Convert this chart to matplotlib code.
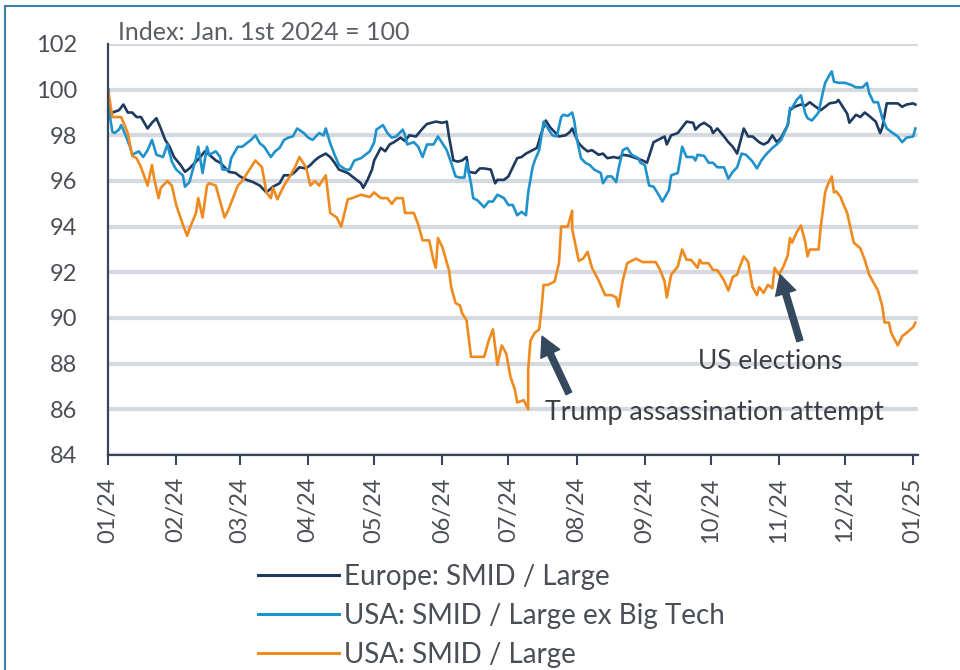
import matplotlib
matplotlib.use("Agg")
import matplotlib.pyplot as plt
import matplotlib.dates as mdates
import pandas as pd

# 数据：交易日偏移(自 2024-01-01 起的天数) 与指数值 (2024-01-01 = 100)
eu_days = [0, 1, 2, 5, 7, 9, 11, 13, 15, 18, 20, 22, 24, 26, 28, 30, 33, 35, 37, 40,
           42, 44, 46, 49, 51, 53, 55, 58, 60, 63, 66, 69, 72, 75, 76, 78, 80, 83, 85, 87,
           90, 92, 94, 96, 99, 101, 103, 105, 109, 111, 115, 116, 118, 120, 121, 124, 126, 128, 130, 133,
           135, 137, 140, 143, 145, 149, 152, 154, 155, 157, 159, 161, 163, 164, 167, 169, 171, 174, 176, 177,
           180, 182, 184, 186, 188, 190, 193, 195, 197, 199, 201, 203, 205, 208, 210, 211, 214, 216, 218, 220,
           223, 225, 227, 230, 232, 234, 237, 240, 243, 245, 248, 250, 253, 254, 256, 259, 261, 263, 266, 267,
           269, 271, 274, 275, 277, 280, 282, 284, 286, 289, 291, 293, 296, 298, 300, 302, 304, 306, 309, 310,
           312, 315, 317, 319, 321, 324, 326, 328, 331, 332, 334, 336, 337, 340, 342, 344, 346, 349, 351, 352,
           354, 356, 359, 361, 363, 366, 367]
eu_vals = [100.0, 98.8, 99.0, 99.1, 99.35, 99.0, 99.0, 98.8, 98.8, 98.3, 98.55, 98.75, 98.3, 97.8, 97.5, 97.05, 96.7, 96.4, 96.55, 96.85,
           97.05, 97.3, 97.15, 96.9, 96.8, 96.6, 96.4, 96.35, 96.2, 96.05, 95.95, 95.8, 95.5, 95.75, 95.8, 95.9, 96.25, 96.25, 96.4, 96.6,
           96.55, 96.7, 96.9, 97.05, 97.2, 97.05, 96.8, 96.5, 96.35, 96.2, 95.9, 95.7, 96.05, 96.5, 96.9, 97.45, 97.3, 97.6, 97.7, 97.9,
           97.75, 98.0, 97.95, 98.3, 98.5, 98.6, 98.55, 98.6, 97.95, 96.9, 96.85, 96.9, 97.05, 96.4, 96.35, 96.55, 96.55, 96.5, 95.9, 96.05,
           96.05, 96.2, 96.6, 97.0, 97.05, 97.2, 97.35, 97.45, 98.1, 98.65, 98.35, 98.15, 97.95, 98.0, 98.15, 98.3, 97.65, 97.45, 97.3, 97.35,
           97.15, 97.2, 97.0, 97.05, 97.0, 97.15, 97.1, 97.0, 96.9, 96.8, 97.7, 97.8, 97.95, 97.6, 98.0, 98.1, 98.35, 98.6, 98.55, 98.25,
           98.45, 98.55, 98.35, 98.1, 98.3, 97.95, 97.7, 97.5, 97.2, 98.3, 97.95, 97.95, 97.7, 97.6, 97.7, 98.0, 97.7, 97.9, 98.45, 99.1,
           99.25, 99.35, 99.3, 99.45, 99.3, 99.1, 99.25, 99.4, 99.45, 99.55, 99.25, 98.95, 98.55, 98.9, 98.8, 99.0, 98.85, 98.6, 98.1, 98.35,
           99.4, 99.4, 99.4, 99.25, 99.35, 99.4, 99.35]

us_ex_days = [0, 1, 2, 3, 5, 6, 8, 10, 11, 14, 16, 18, 20, 22, 25, 27, 29, 31, 34, 35,
              37, 40, 41, 43, 45, 46, 49, 51, 52, 55, 56, 59, 61, 63, 65, 67, 69, 71, 74, 76,
              78, 80, 82, 84, 86, 89, 91, 93, 96, 98, 99, 101, 103, 105, 108, 110, 112, 115, 117, 119,
              121, 122, 125, 127, 129, 131, 134, 135, 136, 139, 141, 143, 145, 148, 150, 152, 154, 156, 158, 160,
              162, 163, 165, 166, 168, 171, 173, 175, 177, 180, 182, 184, 186, 188, 190, 191, 193, 194, 196, 197,
              198, 200, 202, 204, 206, 207, 209, 211, 212, 213, 215, 217, 219, 221, 224, 225, 227, 229, 231, 232,
              234, 236, 238, 241, 242, 244, 246, 248, 250, 252, 255, 256, 259, 260, 261, 263, 266, 267, 268, 271,
              273, 275, 277, 280, 282, 284, 286, 288, 290, 293, 295, 297, 299, 302, 304, 306, 309, 310, 311, 313,
              315, 317, 318, 320, 323, 325, 326, 328, 329, 330, 332, 335, 338, 340, 343, 345, 346, 348, 350, 352,
              354, 356, 359, 361, 363, 366, 367]
us_ex_vals = [100.0, 98.75, 98.15, 98.1, 98.25, 98.45, 98.0, 97.5, 97.15, 97.3, 97.05, 97.35, 97.8, 97.15, 97.05, 97.6, 96.85, 96.5, 96.25, 95.75,
              95.95, 97.0, 97.5, 96.35, 97.5, 97.15, 97.3, 97.05, 96.5, 96.5, 97.0, 97.5, 97.5, 97.65, 97.8, 98.0, 97.65, 97.5, 97.05, 97.3,
              97.45, 97.8, 97.9, 97.95, 98.3, 98.1, 97.9, 97.8, 98.1, 98.0, 98.3, 97.65, 97.15, 96.7, 96.5, 96.5, 96.9, 97.0, 97.15, 97.3,
              97.7, 98.25, 98.45, 98.1, 97.9, 97.95, 98.25, 98.0, 97.6, 97.7, 97.5, 97.05, 97.6, 97.6, 97.95, 97.65, 97.35, 96.8, 96.2, 96.15,
              96.15, 96.8, 95.9, 95.25, 95.15, 94.85, 95.1, 95.1, 95.4, 95.25, 94.95, 94.95, 94.5, 94.65, 94.5, 95.5, 96.6, 96.9, 97.35, 97.95,
              98.6, 98.3, 98.0, 97.95, 98.8, 98.9, 98.85, 99.0, 98.6, 97.9, 97.0, 96.8, 96.7, 96.5, 96.35, 95.9, 96.2, 96.2, 95.95, 96.5,
              97.35, 97.45, 97.15, 97.0, 96.8, 96.7, 95.8, 95.75, 95.45, 95.1, 95.6, 96.25, 96.35, 96.9, 97.5, 97.05, 97.05, 96.9, 97.15, 97.1,
              96.8, 96.8, 96.6, 96.6, 96.1, 96.4, 96.6, 97.2, 97.15, 96.85, 96.55, 96.9, 97.15, 97.45, 97.6, 97.8, 98.45, 99.2, 99.2, 99.55,
              99.75, 98.95, 98.75, 98.65, 99.0, 99.9, 100.3, 100.65, 100.8, 100.35, 100.3, 100.3, 100.2, 100.1, 100.1, 100.3, 99.85, 99.45, 99.45, 98.75,
              98.3, 98.15, 97.95, 97.7, 97.9, 97.95, 98.3]

us_days = [0, 2, 6, 9, 11, 13, 15, 18, 20, 21, 23, 24, 27, 29, 31, 34, 36, 37, 40, 41,
           43, 45, 46, 49, 51, 53, 55, 59, 61, 65, 67, 70, 72, 74, 75, 77, 80, 82, 85, 87,
           90, 92, 94, 96, 99, 101, 104, 106, 109, 111, 115, 119, 121, 124, 127, 129, 131, 134, 135, 139,
           141, 143, 146, 148, 149, 150, 152, 155, 156, 158, 160, 161, 163, 165, 168, 171, 173, 175, 177, 179,
           181, 183, 185, 186, 189, 191, 191, 192, 194, 196, 197, 198, 200, 203, 205, 206, 209, 211, 211, 214,
           216, 218, 220, 223, 226, 229, 231, 232, 234, 236, 238, 240, 243, 245, 249, 251, 253, 254, 256, 259,
           261, 263, 265, 268, 269, 270, 273, 275, 277, 280, 282, 284, 286, 287, 289, 291, 293, 295, 296, 298,
           300, 302, 303, 305, 307, 309, 310, 311, 313, 315, 317, 318, 319, 320, 323, 324, 326, 327, 329, 330,
           331, 333, 334, 336, 339, 342, 344, 346, 350, 352, 353, 355, 356, 359, 361, 363, 366, 367]
us_vals = [100.0, 98.8, 98.8, 98.1, 97.1, 97.0, 96.6, 95.8, 96.7, 96.1, 95.25, 95.7, 96.0, 95.8, 94.95, 94.1, 93.6, 93.9, 94.6, 95.25,
           94.4, 95.8, 95.9, 95.8, 95.1, 94.4, 94.8, 95.8, 96.0, 96.6, 96.9, 96.6, 95.5, 95.25, 95.7, 95.2, 95.8, 96.1, 96.6, 97.05,
           96.6, 95.8, 96.0, 95.8, 96.25, 94.6, 94.4, 94.0, 95.2, 95.25, 95.4, 95.3, 95.5, 95.25, 95.25, 95.0, 95.25, 95.25, 94.6, 94.6,
           94.1, 93.4, 93.4, 92.5, 92.2, 93.5, 93.1, 92.1, 91.35, 90.65, 90.55, 90.2, 89.9, 88.3, 88.3, 88.3, 89.0, 89.5, 87.95, 88.8,
           88.45, 87.4, 86.85, 86.3, 86.4, 86.0, 87.7, 89.0, 89.35, 89.5, 90.35, 91.45, 91.45, 91.6, 92.4, 94.0, 94.0, 94.7, 93.9, 92.5,
           92.6, 92.9, 92.2, 91.65, 91.0, 91.0, 90.9, 90.5, 91.65, 92.4, 92.5, 92.6, 92.45, 92.45, 92.45, 92.1, 91.6, 90.9, 91.9, 92.25,
           93.0, 92.55, 92.55, 92.2, 92.55, 92.4, 92.4, 92.1, 92.1, 91.65, 91.2, 91.8, 91.9, 92.2, 92.7, 92.45, 91.35, 91.0, 91.35, 91.1,
           91.45, 91.3, 92.2, 91.9, 92.25, 92.75, 93.5, 93.3, 93.75, 94.05, 93.3, 92.7, 93.0, 93.0, 93.0, 94.0, 95.5, 95.8, 96.2, 95.5,
           95.55, 95.3, 95.05, 94.6, 93.3, 93.05, 92.55, 91.9, 91.2, 90.5, 89.8, 89.8, 89.35, 88.8, 89.2, 89.35, 89.6, 89.8]

labels = ["Europe: SMID / Large", "USA: SMID / Large ex Big Tech", "USA: SMID / Large"]
colors = ["#1e3a5f", "#1f92cc", "#ef8a1f"]
y_ticks = [84, 86, 88, 90, 92, 94, 96, 98, 100, 102]

start = pd.Timestamp("2024-01-01")


def to_dates(days):
    return start + pd.to_timedelta(days, unit="D")


plt.rcParams["font.family"] = ["Lato", "DejaVu Sans"]
text_color = "#4a4f55"
axis_color = "#37465a"

fig = plt.figure(figsize=(9.6, 6.7), dpi=100)
ax = fig.add_axes([108 / 960, 215 / 670, 810 / 960, 411 / 670])

for days, vals, lab, col in zip([eu_days, us_ex_days, us_days], [eu_vals, us_ex_vals, us_vals], labels, colors):
    ax.plot(to_dates(days), vals, color=col, lw=1.9, label=lab, zorder=3)

ax.set_ylim(84, 102)
ax.set_yticks(y_ticks)
ax.set_xlim(start, start + pd.Timedelta(days=368.2))
ax.xaxis.set_major_locator(mdates.MonthLocator())
ax.xaxis.set_major_formatter(mdates.DateFormatter("%m/%y"))

ax.grid(axis="y", color="#d5dae0", lw=3, zorder=0)
ax.grid(axis="x", visible=False)
for s in ["top", "right"]:
    ax.spines[s].set_visible(False)
for s in ["left", "bottom"]:
    ax.spines[s].set_color(axis_color)
    ax.spines[s].set_linewidth(1.6)
    ax.spines[s].set_zorder(4)

ax.tick_params(axis="y", length=0, pad=22, labelsize=17, labelcolor=text_color)
ax.tick_params(axis="x", length=7, width=1.5, color=axis_color, pad=9, labelsize=17,
               labelcolor=text_color, labelrotation=90)

fig.text(118 / 960, 1 - 33 / 670, "Index: Jan. 1st 2024 = 100", fontsize=18,
         color="#5a5f66", va="center", ha="left")

# 注释箭头
arrow_style = dict(facecolor="#34495e", edgecolor="#34495e", width=4.5, headwidth=15, headlength=14)
ax.annotate("", xy=(start + pd.Timedelta(days=197.3), 89.2), xytext=(start + pd.Timedelta(days=209.5), 86.7),
            arrowprops=arrow_style, zorder=5)
ax.annotate("", xy=(start + pd.Timedelta(days=305.5), 91.9), xytext=(start + pd.Timedelta(days=314.5), 89.0),
            arrowprops=arrow_style, zorder=5)
ax.text(start + pd.Timedelta(days=198.6), 85.85, "Trump assassination attempt", fontsize=19.3,
        color="#3a3f45", va="center", ha="left", zorder=6)
ax.text(start + pd.Timedelta(days=268.2), 88.1, "US elections", fontsize=19,
        color="#3a3f45", va="center", ha="left", zorder=6)

handles, labs = ax.get_legend_handles_labels()
leg = fig.legend(handles, labs, loc="upper left", bbox_to_anchor=(258 / 960, 1 - 564 / 670),
                 frameon=False, fontsize=20, handlelength=2.9, handletextpad=0.2,
                 labelspacing=0.47, borderpad=0, borderaxespad=0)
for t in leg.get_texts():
    t.set_color(text_color)
for l in leg.get_lines():
    l.set_linewidth(2.2)

# 外框
fig.add_artist(plt.Line2D([5 / 960, 5 / 960], [0, 1 - 6 / 670], transform=fig.transFigure,
                          color="#3f7fa8", lw=1.5))
fig.add_artist(plt.Line2D([5 / 960, 1], [1 - 6 / 670, 1 - 6 / 670], transform=fig.transFigure,
                          color="#3f7fa8", lw=1.5))

fig.savefig("out.png", dpi=100)
